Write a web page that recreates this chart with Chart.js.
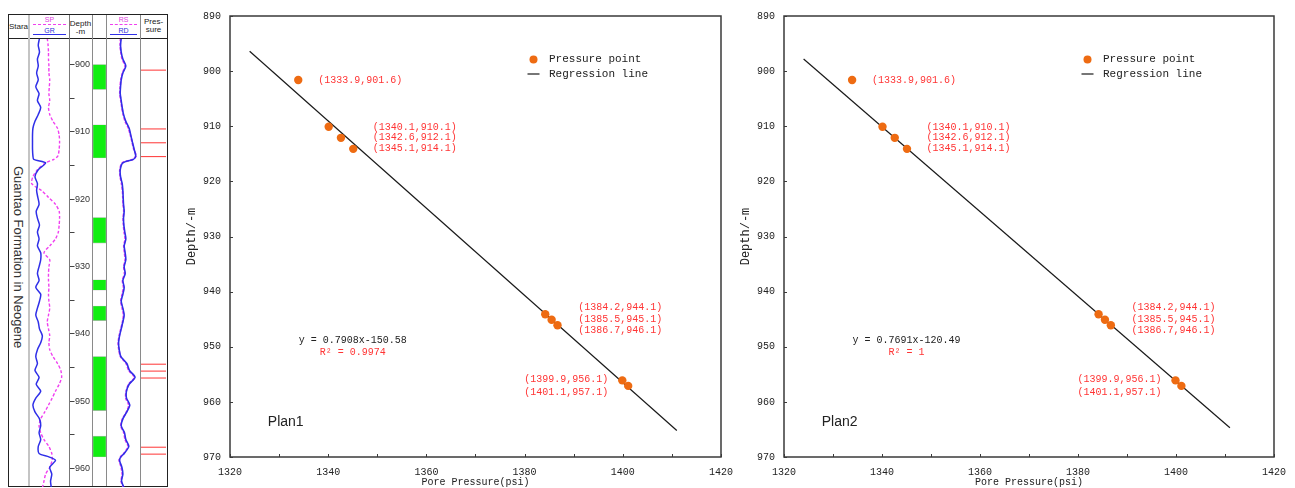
<!DOCTYPE html>
<html>
<head>
<meta charset="utf-8">
<script src="https://cdn.jsdelivr.net/npm/chart.js@4.4.1/dist/chart.umd.min.js"></script>
<style>
	body { margin: 0; width: 1295px; height: 488px; background: #fff; position: relative; overflow: hidden; font-family: "Liberation Sans", Arial, sans-serif; }
	.abs { position: absolute; }
	.t { position: absolute; text-align: center; color: #222; white-space: nowrap; }
	.vl { position: absolute; top: 15px; width: 1px; height: 471px; background: #8a8a8a; }
	canvas { position: absolute; }
</style>
</head>
<body>
<!-- well log panel -->
<div class="abs" style="left:8px;top:14px;width:158px;height:471px;border:1px solid #222"></div>
<div class="abs" style="left:8px;top:38px;width:160px;height:1px;background:#222"></div>
<div class="vl" style="left:28px;width:2px;background:#c4c4c4"></div>
<div class="vl" style="left:69px;background:#777"></div>
<div class="vl" style="left:92px"></div>
<div class="vl" style="left:106px"></div>
<div class="vl" style="left:140px"></div>

<div class="t" style="left:8px;top:21px;width:21px;font-size:8px;line-height:12px">Stara</div>
<div class="t" style="left:30px;top:15px;width:39px;font-size:7px;line-height:10px;color:#e03ee0">SP</div>
<div class="abs" style="left:33px;top:24px;width:33px;border-top:1px dashed #f040f0"></div>
<div class="t" style="left:30px;top:26px;width:39px;font-size:7px;line-height:10px;color:#2f2fd8">GR</div>
<div class="abs" style="left:33px;top:34px;width:33px;height:1px;background:#2f2fe8"></div>
<div class="t" style="left:69px;top:18px;width:23px;font-size:8px;line-height:11px">Depth</div>
<div class="t" style="left:69px;top:25.5px;width:23px;font-size:8px;line-height:11px">-m</div>
<div class="t" style="left:107px;top:15px;width:33px;font-size:7px;line-height:10px;color:#e03ee0">RS</div>
<div class="abs" style="left:110px;top:24px;width:27px;border-top:1px dashed #f040f0"></div>
<div class="t" style="left:107px;top:26px;width:33px;font-size:7px;line-height:10px;color:#2f2fd8">RD</div>
<div class="abs" style="left:110px;top:34px;width:27px;height:1px;background:#2f2fe8"></div>
<div class="t" style="left:140px;top:16px;width:27px;font-size:8px;line-height:12px">Pres-</div>
<div class="t" style="left:140px;top:24px;width:27px;font-size:8px;line-height:12px">sure</div>
<div class="abs" style="left:8px;top:39px;width:20px;height:437px;writing-mode:vertical-rl;text-align:center;line-height:20px;font-size:13px;color:#333">Guantao Formation in Neogene</div>

<canvas id="spgr" width="41" height="448" style="left:28px;top:39px"></canvas>
<canvas id="depthCol" width="23" height="448" style="left:69px;top:39px"></canvas>
<canvas id="lith" width="13" height="448" style="left:93px;top:39px"></canvas>
<canvas id="rsrd" width="33" height="448" style="left:107px;top:39px"></canvas>
<canvas id="pres" width="25" height="448" style="left:141px;top:39px"></canvas>

<!-- regression plots -->
<canvas id="plan1" width="570" height="488" style="left:172px;top:0"></canvas>
<canvas id="plan2" width="569" height="488" style="left:726px;top:0"></canvas>

<script>
const mono = '"Liberation Mono", "DejaVu Sans Mono", monospace';
const sans = '"Liberation Sans", Arial, sans-serif';
const orange = '#ee6b12';
const red = '#ff3434';
const logBlue = '#2f2fe8';
const logPink = '#f040f0';

// pressure test points (psi, m)
const pressure = [1333.9, 1340.1, 1342.6, 1345.1, 1384.2, 1385.5, 1386.7, 1399.9, 1401.1];
const depth = [901.6, 910.1, 912.1, 914.1, 944.1, 945.1, 946.1, 956.1, 957.1];

// regression line ends
const plan1LineX = [1324, 1411];
const plan1LineY = [896.4, 965.2];
const plan2LineX = [1324, 1411];
const plan2LineY = [897.8, 964.7];

// log curves, values in % of track width
const logDepth = [897, 898, 899, 900, 901, 902, 903, 904, 905, 906, 907, 908, 909, 910, 911, 912, 913, 914, 914.5,
	915, 916, 917, 918, 919, 920, 921, 922, 923, 924, 925, 926, 927, 928, 929, 930, 931, 932, 933, 934, 935, 936,
	937, 938, 939, 940, 941, 942, 943, 944, 945, 946, 947, 948, 949, 950, 951, 952, 953, 954, 955, 956, 957, 957.5,
	958, 959, 960, 961, 962];
const grValues = [28, 25, 28, 23, 25, 21, 25, 19, 27, 23, 31, 25, 17, 12, 11, 11, 11, 12, 14,
	43, 25, 17, 23, 21, 24, 27, 20, 23, 28, 23, 27, 23, 31, 31, 27, 23, 27, 19, 31, 28, 23,
	19, 25, 28, 35, 31, 23, 19, 23, 17, 27, 20, 31, 19, 12, 17, 28, 31, 27, 31, 25, 27, 51,
	67, 53, 58, 55, 57];
const spValues = [47, 49, 50, 50, 51, 51, 53, 52, 51, 53, 50, 53, 61, 72, 76, 77, 76, 73, 63,
	43, 23, 12, 9, 33, 50, 67, 76, 77, 76, 74, 67, 53, 39, 53, 51, 50, 50, 51, 50, 51, 53,
	50, 47, 50, 53, 51, 53, 61, 72, 80, 82, 76, 67, 59, 50, 41, 31, 27, 31, 39, 51, 58, 59,
	59, 53, 43, 39, 35];
const rdValues = [43, 41, 43, 48, 57, 48, 43, 41, 40, 43, 46, 50, 57, 67, 72, 77, 82, 87, 80,
	48, 40, 41, 46, 48, 49, 50, 52, 50, 51, 54, 57, 52, 55, 57, 52, 55, 48, 52, 48, 43, 48,
	52, 48, 43, 38, 35, 37, 42, 60, 68, 85, 67, 59, 59, 69, 60, 48, 43, 53, 57, 66, 52, 42,
	38, 45, 48, 44, 52];
const rsValues = [41, 40, 42, 46, 55, 47, 42, 40, 39, 42, 45, 49, 55, 65, 71, 76, 81, 88, 78,
	46, 39, 40, 44, 47, 48, 49, 51, 49, 50, 52, 55, 51, 53, 55, 51, 53, 47, 50, 46, 42, 46,
	50, 47, 42, 37, 34, 36, 41, 58, 66, 83, 66, 58, 57, 66, 59, 47, 42, 51, 55, 64, 51, 41,
	37, 43, 46, 43, 50];

// sand intervals (m)
const sandTop = [900.8, 909.5, 922.9, 931.9, 935.7, 943.0, 954.5];
const sandBase = [904.4, 914.3, 926.6, 933.4, 937.8, 950.8, 957.5];
const depthTicks = [900, 905, 910, 915, 920, 925, 930, 935, 940, 945, 950, 955, 960];
const logTop = 897.1;
const logBottom = 961.85;

// where the point labels sit around their points
const labelGroups = [
	{ idx: [0], align: 'left', dx: 20, dy: 0, gap: 0 },
	{ idx: [1, 2, 3], align: 'left', dx: 44, dy: 0, gap: 10.8 },
	{ idx: [4, 5, 6], align: 'left', dx: 33, dy: -0.7, gap: 11.7 },
	{ idx: [7, 8], align: 'right', dx: -14, dy: 2.6, gap: 13 },
];

const framePlugin = {
	id: 'frame',
	afterDatasetsDraw(chart) {
		const { ctx, chartArea: a, scales: { x, y } } = chart;
		ctx.save();
		ctx.strokeStyle = '#3a3a3a';
		ctx.lineWidth = 1.5;
		ctx.strokeRect(a.left, a.top, a.width, a.height);
		ctx.lineWidth = 1;
		x.ticks.forEach((t) => {
			const px = Math.round(x.getPixelForValue(t.value)) + 0.5;
			ctx.beginPath();
			ctx.moveTo(px, a.bottom);
			ctx.lineTo(px, a.bottom - 3);
			ctx.stroke();
		});
		y.ticks.forEach((t) => {
			const py = Math.round(y.getPixelForValue(t.value)) + 0.5;
			ctx.beginPath();
			ctx.moveTo(a.left, py);
			ctx.lineTo(a.left + 3, py);
			ctx.stroke();
		});
		ctx.restore();
	},
};

const legendPlugin = {
	id: 'insideLegend',
	afterDraw(chart) {
		const { ctx, chartArea: a } = chart;
		const ds = chart.data.datasets;
		const y0 = a.top + 43.5;
		const y1 = y0 + 14.5;
		ctx.save();
		ctx.font = `11px ${mono}`;
		ctx.textBaseline = 'middle';
		ctx.fillStyle = ds[0].backgroundColor;
		ctx.beginPath();
		ctx.arc(a.left + 303.5, y0, 4, 0, Math.PI * 2);
		ctx.fill();
		ctx.strokeStyle = ds[1].borderColor;
		ctx.lineWidth = 1.2;
		ctx.beginPath();
		ctx.moveTo(a.left + 297.5, y1);
		ctx.lineTo(a.left + 309.5, y1);
		ctx.stroke();
		ctx.fillStyle = '#222';
		ctx.fillText(ds[0].label, a.left + 319, y0);
		ctx.fillText(ds[1].label, a.left + 319, y1);
		ctx.restore();
	},
};

const textPlugin = {
	id: 'planText',
	afterDatasetsDraw(chart, args, o) {
		const { ctx, scales: { x, y } } = chart;
		ctx.save();
		ctx.font = `10px ${mono}`;
		ctx.textBaseline = 'middle';
		ctx.fillStyle = red;
		labelGroups.forEach((g) => {
			const px = x.getPixelForValue(pressure[g.idx[0]]);
			const py = g.idx.map((i) => y.getPixelForValue(depth[i]));
			const mid = py.reduce((s, v) => s + v, 0) / py.length + g.dy;
			ctx.textAlign = g.align;
			g.idx.forEach((i, k) => {
				const txt = `(${pressure[i].toFixed(1)},${depth[i].toFixed(1)})`;
				ctx.fillText(txt, px + g.dx, mid + (k - (g.idx.length - 1) / 2) * g.gap);
			});
		});
		ctx.textAlign = 'center';
		ctx.fillStyle = '#222';
		ctx.fillText(o.eq, x.getPixelForValue(1345), y.getPixelForValue(948.8));
		ctx.fillStyle = red;
		ctx.fillText(o.r2, x.getPixelForValue(1345), y.getPixelForValue(951));
		ctx.font = `14px ${sans}`;
		ctx.fillStyle = '#222';
		ctx.textAlign = 'left';
		ctx.fillText(o.name, x.getPixelForValue(1327.7), y.getPixelForValue(963.7));
		ctx.restore();
	},
};

function planChart(id, lineX, lineY, eq, r2, name, padRight) {
	const points = pressure.map((p, i) => ({ x: p, y: depth[i] }));
	const line = lineX.map((v, i) => ({ x: v, y: lineY[i] }));
	return new Chart(document.getElementById(id), {
		type: 'scatter',
		data: {
			datasets: [
				{
					label: 'Pressure point',
					data: points,
					backgroundColor: orange,
					borderColor: orange,
					borderWidth: 0,
					pointRadius: 4.2,
				},
				{
					label: 'Regression line',
					data: line,
					showLine: true,
					borderColor: '#1a1a1a',
					borderWidth: 1.2,
					pointRadius: 0,
				},
			],
		},
		plugins: [framePlugin, legendPlugin, textPlugin],
		options: {
			responsive: false,
			animation: false,
			layout: { autoPadding: false, padding: { left: 0, top: 16, right: padRight, bottom: 0 } },
			plugins: {
				legend: { display: false },
				tooltip: { enabled: false },
				planText: { eq, r2, name },
			},
			scales: {
				x: {
					type: 'linear',
					min: 1320,
					max: 1420,
					afterFit: (s) => { s.height = 31; },
					grid: { display: false, drawTicks: false },
					border: { display: false },
					ticks: {
						stepSize: 10,
						padding: 9,
						autoSkip: false,
						maxRotation: 0,
						color: '#222',
						font: { family: mono, size: 10 },
						callback: (v) => (v % 20 === 0 ? v : ''),
					},
					title: {
						display: true,
						text: 'Pore Pressure(psi)',
						color: '#222',
						font: { family: mono, size: 10 },
						padding: 0,
					},
				},
				y: {
					type: 'linear',
					reverse: true,
					min: 890,
					max: 970,
					afterFit: (s) => { s.width = 58; },
					grid: { display: false, drawTicks: false },
					border: { display: false },
					ticks: {
						stepSize: 10,
						padding: 9,
						color: '#222',
						font: { family: mono, size: 10 },
						callback: (v) => v,
					},
					title: {
						display: true,
						text: 'Depth/-m',
						color: '#222',
						font: { family: mono, size: 12 },
						padding: { top: 13, bottom: 0 },
					},
				},
			},
		},
	});
}

function trackOptions(xMin, xMax) {
	return {
		responsive: false,
		animation: false,
		layout: { autoPadding: false, padding: 0 },
		plugins: { legend: { display: false }, tooltip: { enabled: false } },
		scales: {
			x: { type: 'linear', display: false, min: xMin, max: xMax },
			y: { type: 'linear', display: false, reverse: true, min: logTop, max: logBottom },
		},
	};
}

function curve(values, color, width, dash) {
	return {
		data: logDepth.map((d, i) => ({ x: values[i], y: d })),
		showLine: true,
		borderColor: color,
		borderWidth: width,
		borderDash: dash,
		pointRadius: 0,
		tension: 0.25,
	};
}

new Chart(document.getElementById('spgr'), {
	type: 'scatter',
	data: { datasets: [curve(grValues, logBlue, 1.5, []), curve(spValues, logPink, 1.4, [3, 2])] },
	options: trackOptions(0, 100),
});

new Chart(document.getElementById('rsrd'), {
	type: 'scatter',
	data: { datasets: [curve(rdValues, logBlue, 1.6, []), curve(rsValues, logPink, 1.8, [3, 1.5])] },
	options: trackOptions(0, 100),
});

new Chart(document.getElementById('pres'), {
	type: 'scatter',
	data: {
		datasets: depth.map((d) => ({
			data: [{ x: 0, y: d }, { x: 1, y: d }],
			showLine: true,
			borderColor: red,
			borderWidth: 1,
			pointRadius: 0,
		})),
	},
	options: trackOptions(0, 1),
});

const lithOptions = trackOptions(0, 1);
lithOptions.scales.x = { type: 'category', display: false };
new Chart(document.getElementById('lith'), {
	type: 'bar',
	data: {
		labels: ['sand'],
		datasets: sandTop.map((top, i) => ({
			data: [[top, sandBase[i]]],
			backgroundColor: '#10ee10',
			borderColor: '#b8b8b8',
			borderWidth: 0.6,
			borderSkipped: false,
			grouped: false,
			barPercentage: 1,
			categoryPercentage: 1,
		})),
	},
	options: lithOptions,
});

const depthOptions = trackOptions(0, 1);
depthOptions.scales.y = {
	type: 'linear',
	position: 'right',
	reverse: true,
	min: logTop,
	max: logBottom,
	afterFit: (s) => { s.width = 22; },
	afterBuildTicks: (s) => { s.ticks = depthTicks.map((v) => ({ value: v })); },
	grid: { display: true, drawOnChartArea: false, drawTicks: true, tickLength: 4.5, color: '#444' },
	border: { display: false },
	ticks: {
		autoSkip: false,
		padding: 0.5,
		color: '#333',
		font: { family: sans, size: 9 },
		callback: (v) => (v % 10 === 0 ? v : ''),
	},
};
new Chart(document.getElementById('depthCol'), {
	type: 'scatter',
	data: { datasets: [] },
	options: depthOptions,
});

planChart('plan1', plan1LineX, plan1LineY, 'y = 0.7908x-150.58', 'R\u00b2 = 0.9974', 'Plan1', 20);
planChart('plan2', plan2LineX, plan2LineY, 'y = 0.7691x-120.49', 'R\u00b2 = 1', 'Plan2', 18);
</script>
</body>
</html>
